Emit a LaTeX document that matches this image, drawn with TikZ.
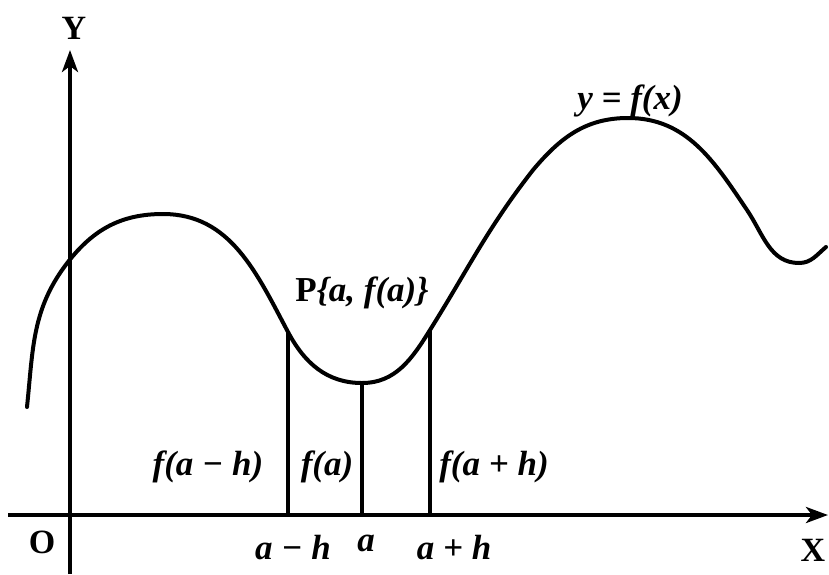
\documentclass[tikz,border=0pt]{standalone}
\usepackage{fontspec}
\setmainfont{Liberation Serif}
\usepackage{tikz}
\usetikzlibrary{arrows.meta}

\tikzset{
  axis/.style={line width=2pt, -{Stealth[length=11pt,width=8pt,inset=3pt]}},
  ordinate/.style={line width=1.6pt},
  lbl/.style={font=\bfseries\itshape\fontsize{17.5}{17.5}\selectfont, inner sep=0pt},
  axlbl/.style={font=\bfseries\fontsize{17}{17}\selectfont, inner sep=0pt}
}

\begin{document}
\begin{tikzpicture}[x=0.5pt,y=-0.5pt]
\useasboundingbox (0,0) rectangle (829,574);

%%% --- Axes --- %%%
\coordinate (xl) at (8,515);
\coordinate (xr) at (828,515);
\coordinate (yb) at (70,574);
\coordinate (yt) at (70,50);
\draw[axis] (xl) -- (xr);
\draw[axis] (yb) -- (yt);

\node[axlbl] (ylab) at (74,28) {Y};
\node[axlbl] (xlab) at (813,550) {X};
\node[axlbl] (olab) at (42,542) {O};


%%% --- The curve y = f(x) --- %%%
\coordinate (Pl) at (288,332);
\coordinate (P)  at (362,383);
\coordinate (Pr) at (430,330);

\draw[line width=2pt, line cap=round]
  (27,407) to[out=84,in=-128] (68,262)
  to[out=52,in=180] (163,214)
  to[out=0,in=118] (Pl)
  to[out=-62,in=180] (P)
  to[out=0,in=-122] (Pr)
  to[out=58,in=-128] (533,170)
  to[out=50,in=180] (628,118)
  to[out=0,in=124] (747,210)
  to[out=-56,in=180] (799,263)
  to[out=0,in=-140] (826,247);


%%% --- Ordinates --- %%%
\coordinate (Ql) at (288,515);
\coordinate (Q)  at (362,515);
\coordinate (Qr) at (430,515);
\draw[ordinate] (Pl) -- (Ql);
\draw[ordinate] (P) -- (Q);
\draw[ordinate] (Pr) -- (Qr);


%%% --- Labels --- %%%
\node[lbl] (fam) at (208,467) {f(a − h)};
\node[lbl] (fa)  at (327,467) {f(a)};
\node[lbl] (fap) at (494,467) {f(a + h)};

\node[lbl] (am) at (293,548) {a − h};
\node[lbl] (a)  at (366,543) {a};
\node[lbl] (ap) at (454,548) {a + h};

\node[lbl] (plab) at (362,293) {\upshape P\itshape\{a, f(a)\}};
\node[lbl] (flab) at (630,101) {y = f(x)};

\end{tikzpicture}
\end{document}
